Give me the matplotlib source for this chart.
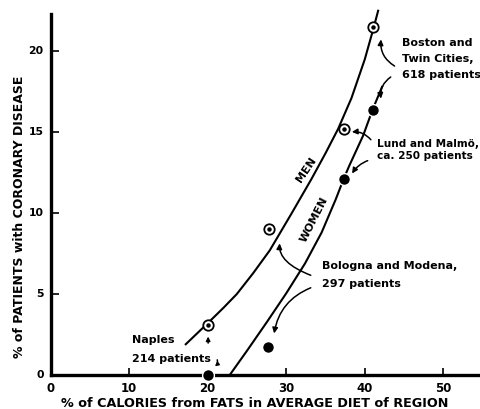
import matplotlib
matplotlib.use("Agg")
import matplotlib.pyplot as plt

# regional study results: % calories from fat vs % coronary patients
men_fat = [20.0, 27.8, 37.4, 41.1]
men_cases = [3.1, 9.0, 15.2, 21.5]
women_fat = [20.0, 27.7, 37.3, 41.0]
women_cases = [0.0, 1.75, 12.1, 16.4]

# hand-fitted trend curves
men_curve_x = [17.2, 20.0, 22.0, 23.7, 25.8, 27.9, 30.7, 33.2, 35.0, 36.6, 38.3, 40.0, 41.1, 41.7]
men_curve_y = [1.9, 3.2, 4.15, 5.0, 6.3, 7.7, 10.0, 12.1, 13.7, 15.2, 17.1, 19.5, 21.4, 22.5]
women_curve_x = [22.8, 25.0, 27.5, 30.0, 32.4, 34.5, 36.3, 37.3, 38.0, 39.8, 41.0, 42.2]
women_curve_y = [0.0, 1.5, 3.25, 5.05, 6.9, 8.8, 10.85, 12.1, 12.9, 14.8, 16.4, 17.8]

xticks = [10, 30, 40, 50]
xtick_labels = ["0", "10", "20", "30", "40", "50"]
yticks = [5, 10, 15, 20]

plt.rcParams['font.family'] = ['DejaVu Sans']
plt.rcParams['font.weight'] = 'bold'

fig = plt.figure(figsize=(4.81, 4.09), dpi=100)
ax = fig.add_axes([0.1054, 0.0831, 0.8946, 0.8827])
ax.set_xlim(0, 54.8)
ax.set_ylim(0, 22.3)

ax.spines['top'].set_visible(False)
ax.spines['right'].set_visible(False)
ax.spines['left'].set_linewidth(2.4)
ax.spines['bottom'].set_linewidth(2.4)

ax.set_xticks(xticks)
ax.set_xticklabels([])
ax.set_yticks(yticks)
ax.set_yticklabels([])
ax.tick_params(axis='x', direction='in', length=5, width=1.2)
ax.tick_params(axis='y', direction='in', length=6, width=1.2)

# tick labels placed by hand so that 0 and 20 sit below the axis too
for i, lab in enumerate(xtick_labels):
    ax.text(i * 10, -0.45, lab, ha='center', va='top', fontsize=8.5, clip_on=False)
for v in [0] + yticks:
    ax.text(-0.9, v, str(v), ha='right', va='center', fontsize=7.8, clip_on=False)

ax.text(26.0, -1.33, "% of CALORIES from FATS in AVERAGE DIET of REGION",
        ha='center', va='top', fontsize=9.2, clip_on=False)
ax.text(-4.0, 9.75, "% of PATIENTS with CORONARY DISEASE", rotation=90,
        ha='center', va='center', fontsize=9.0, clip_on=False)

# curves
ax.plot(men_curve_x, men_curve_y, color='black', lw=1.5, clip_on=False)
ax.plot(women_curve_x, women_curve_y, color='black', lw=1.5, clip_on=False)

# men: open circle with a dot in the middle
ax.plot(men_fat, men_cases, 'o', ms=7.5, mfc='white', mec='black', mew=1.3,
        clip_on=False, zorder=4)
ax.plot(men_fat, men_cases, 'o', ms=2.2, color='black', clip_on=False, zorder=5)
# women: filled dots
ax.plot(women_fat, women_cases, 'o', ms=8.5, color='black', mec='white', mew=1.0,
        clip_on=False, zorder=4)

ax.text(32.5, 12.7, "MEN", rotation=56, ha='center', va='center', fontsize=8)
ax.text(33.6, 9.6, "WOMEN", rotation=63, ha='center', va='center', fontsize=8)

# region labels
ax.text(44.75, 20.8, "Boston and\nTwin Cities,\n618 patients", ha='left', va='top',
        fontsize=8, linespacing=1.75)
ax.text(41.6, 13.9, "Lund and Malmö,\nca. 250 patients", ha='left', va='center',
        fontsize=7.6, linespacing=1.3)
ax.text(34.5, 6.2, "Bologna and Modena,\n297 patients", ha='left', va='center',
        fontsize=8, linespacing=2.0)
ax.text(10.3, 1.6, "Naples\n214 patients", ha='left', va='center',
        fontsize=8, linespacing=2.1)

arr = dict(arrowstyle='-|>', color='black', lw=1.1, mutation_scale=8)
ax.annotate("", xy=(42.1, 20.9), xytext=(44.1, 19.0),
            arrowprops=dict(arr, connectionstyle="arc3,rad=-0.35"))
ax.annotate("", xy=(42.1, 16.9), xytext=(43.6, 18.5),
            arrowprops=dict(arr, connectionstyle="arc3,rad=0.35"))
ax.annotate("", xy=(38.0, 15.0), xytext=(41.0, 14.4),
            arrowprops=dict(arr, connectionstyle="arc3,rad=0.3"))
ax.annotate("", xy=(38.2, 12.3), xytext=(40.7, 13.3),
            arrowprops=dict(arr, connectionstyle="arc3,rad=0.2"))
ax.annotate("", xy=(29.2, 8.3), xytext=(33.45, 6.1),
            arrowprops=dict(arr, connectionstyle="angle3,angleA=160,angleB=80"))
ax.annotate("", xy=(28.4, 2.4), xytext=(33.45, 5.45),
            arrowprops=dict(arr, connectionstyle="arc3,rad=0.3"))
ax.annotate("", xy=(20.05, 2.55), xytext=(20.05, 1.8),
            arrowprops=dict(arr, mutation_scale=6))
ax.annotate("", xy=(20.6, 0.45), xytext=(21.1, 1.1),
            arrowprops=dict(arr, mutation_scale=5, connectionstyle="arc3,rad=-0.5"))

fig.savefig("out.png", dpi=100)
